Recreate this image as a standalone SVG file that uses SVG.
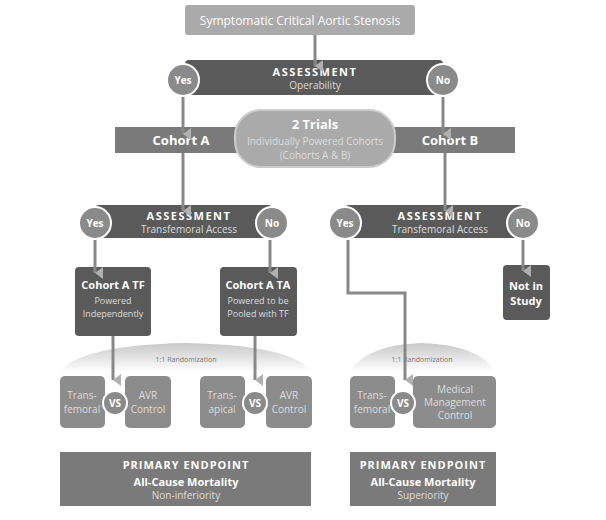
<svg xmlns="http://www.w3.org/2000/svg" width="606" height="520" viewBox="0 0 606 520">
<defs>
<marker id="ah" markerWidth="12" markerHeight="9" refX="6" refY="8" orient="auto" markerUnits="userSpaceOnUse">
<path d="M0,0 L12,0 L6,8 Z" fill="#b0b0b0"/>
</marker>
<linearGradient id="dome" x1="0" y1="0" x2="0" y2="1"><stop offset="0" stop-color="#c8c8c8"/><stop offset="1" stop-color="#fff"/></linearGradient>
</defs>
<style>
text{font-family:"Open Sans","Liberation Sans",sans-serif;text-anchor:middle}
.b{font-weight:bold;fill:#fff}
.l{fill:#ddd}
.c{fill:#8a8a8a;stroke:#fff;stroke-width:2}
.dk{fill:#5a5a5a}
.md{fill:#7a7a7a}
.cmp{fill:#8c8c8c}
.ln{stroke:#888;stroke-width:3;fill:none;marker-end:url(#ah)}
</style>
<rect width="606" height="520" fill="#fff"/>
<g id="top"><rect x="185" y="5" width="230" height="30" rx="3" fill="#aaa"/><text x="300" y="25" font-size="12" fill="#fff">Symptomatic Critical Aortic Stenosis</text></g>
<g id="assess1"><rect x="185" y="60" width="258" height="35" rx="4" class="dk"/>
<text x="315" y="76" font-size="11" class="b" letter-spacing="1.5">ASSESSMENT</text><text x="315" y="89" font-size="10" class="l">Operability</text>
<circle cx="183" cy="80" r="16" class="c"/><text x="183" y="84" font-size="10" class="b">Yes</text>
<circle cx="443" cy="80" r="16" class="c"/><text x="443" y="84" font-size="10" class="b">No</text></g>
<g id="cohorts"><rect x="115" y="127" width="400" height="26" class="md"/>
<text x="181" y="145" font-size="13" class="b">Cohort A</text><text x="450" y="145" font-size="13" class="b">Cohort B</text></g>
<g id="trials"><rect x="235" y="110" width="160" height="57" rx="26" fill="#aaa" stroke="#ccc" stroke-width="2"/>
<text x="315" y="129" font-size="13" class="b">2 Trials</text><text x="315" y="145" font-size="10" class="l">Individually Powered Cohorts</text><text x="315" y="159" font-size="10" class="l">(Cohorts A &amp; B)</text></g>
<g id="assess2"><rect x="95" y="205" width="177" height="33" rx="4" class="dk"/>
<text x="189" y="220" font-size="11" class="b" letter-spacing="1.5">ASSESSMENT</text><text x="189" y="233" font-size="10" class="l">Transfemoral Access</text>
<circle cx="95" cy="223" r="16" class="c"/><text x="95" y="227" font-size="10" class="b">Yes</text>
<circle cx="272" cy="223" r="16" class="c"/><text x="272" y="227" font-size="10" class="b">No</text></g>
<g id="assess3"><rect x="345" y="205" width="178" height="33" rx="4" class="dk"/>
<text x="440" y="220" font-size="11" class="b" letter-spacing="1.5">ASSESSMENT</text><text x="440" y="233" font-size="10" class="l">Transfemoral Access</text>
<circle cx="345" cy="223" r="16" class="c"/><text x="345" y="227" font-size="10" class="b">Yes</text>
<circle cx="523" cy="223" r="16" class="c"/><text x="523" y="227" font-size="10" class="b">No</text></g>
<g id="tf"><rect x="75" y="267" width="76" height="69" rx="4" class="dk"/><text x="113" y="289" font-size="11" class="b">Cohort A TF</text><text x="113" y="304" font-size="9" class="l">Powered</text><text x="113" y="317" font-size="9" class="l">Independently</text></g>
<g id="ta"><rect x="220" y="267" width="77" height="69" rx="4" class="dk"/><text x="258" y="289" font-size="11" class="b">Cohort A TA</text><text x="258" y="304" font-size="9" class="l">Powered to be</text><text x="258" y="317" font-size="9" class="l">Pooled with TF</text></g>
<g id="notin"><rect x="503" y="265" width="47" height="55" rx="4" class="dk"/><text x="526" y="290" font-size="11" class="b">Not in</text><text x="526" y="305" font-size="11" class="b">Study</text></g>
<g id="rand1"><path d="M60,372 Q80,345 186,343 Q292,345 312,372 Z" fill="url(#dome)"/><text x="186" y="362" font-size="7" fill="#777">1:1 Randomization</text></g>
<g id="rand2"><path d="M350,372 Q365,345 422,343 Q480,345 495,372 Z" fill="url(#dome)"/><text x="422" y="362" font-size="7" fill="#777">1:1 Randomization</text></g>
<g id="cmp1"><rect x="60" y="376" width="45" height="52" rx="5" class="cmp"/><text x="82" y="399" font-size="10" class="l">Trans-</text><text x="82" y="413" font-size="10" class="l">femoral</text>
<rect x="125" y="376" width="46" height="52" rx="5" class="cmp"/><text x="148" y="399" font-size="10" class="l">AVR</text><text x="148" y="413" font-size="10" class="l">Control</text>
<circle cx="115" cy="403" r="12" class="c"/><text x="115" y="407" font-size="10" class="b">VS</text></g>
<g id="cmp2"><rect x="200" y="376" width="45" height="52" rx="5" class="cmp"/><text x="222" y="399" font-size="10" class="l">Trans-</text><text x="222" y="413" font-size="10" class="l">apical</text>
<rect x="266" y="376" width="46" height="52" rx="5" class="cmp"/><text x="289" y="399" font-size="10" class="l">AVR</text><text x="289" y="413" font-size="10" class="l">Control</text>
<circle cx="255" cy="403" r="12" class="c"/><text x="255" y="407" font-size="10" class="b">VS</text></g>
<g id="cmp3"><rect x="350" y="376" width="45" height="52" rx="5" class="cmp"/><text x="372" y="399" font-size="10" class="l">Trans-</text><text x="372" y="413" font-size="10" class="l">femoral</text>
<rect x="413" y="376" width="83" height="52" rx="5" class="cmp"/><text x="455" y="393" font-size="10" class="l">Medical</text><text x="455" y="406" font-size="10" class="l">Management</text><text x="455" y="419" font-size="10" class="l">Control</text>
<circle cx="403" cy="403" r="12" class="c"/><text x="403" y="407" font-size="10" class="b">VS</text></g>
<g id="ep1"><rect x="60" y="452" width="251" height="54" class="md"/><text x="186" y="469" font-size="11" class="b" font-family="Liberation Sans" letter-spacing="1">PRIMARY ENDPOINT</text><text x="186" y="486" font-size="11" class="b" font-family="Liberation Sans">All-Cause Mortality</text><text x="186" y="499" font-size="10" class="l">Non-inferiority</text></g>
<g id="ep2"><rect x="350" y="452" width="146" height="54" class="md"/><text x="423" y="469" font-size="11" class="b" font-family="Liberation Sans" letter-spacing="1">PRIMARY ENDPOINT</text><text x="423" y="486" font-size="11" class="b" font-family="Liberation Sans">All-Cause Mortality</text><text x="423" y="499" font-size="10" class="l">Superiority</text></g>
<g id="connectors">
<path class="ln" d="M315,35 V66"/>
<path class="ln" d="M183,97 V134"/>
<path class="ln" d="M443,97 V134"/>
<path class="ln" d="M183,153 V211"/>
<path class="ln" d="M445,153 V211"/>
<path class="ln" d="M95,240 V273"/>
<path class="ln" d="M270,240 V273"/>
<path class="ln" d="M523,240 V271"/>
<path class="ln" d="M348,240 V293 H405 V380"/>
<path class="ln" d="M113,336 V380"/>
<path class="ln" d="M255,336 V380"/>
</g>
</svg>
